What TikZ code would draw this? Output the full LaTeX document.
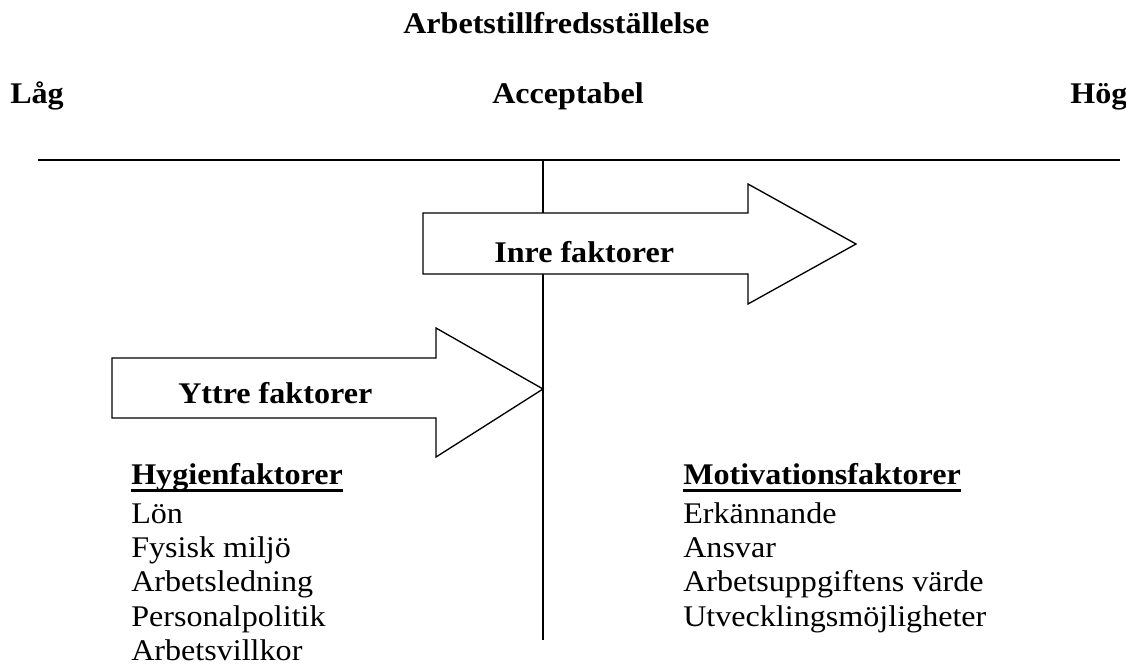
\documentclass[tikz,border=0pt]{standalone}
\usepackage{fontspec}
\setmainfont{Liberation Serif}[FakeStretch=1.07]
\newcommand\thickul[1]{\setbox0\hbox{#1}\rlap{\raisebox{-5.8pt}{\rule{\wd0}{2pt}}}\box0}
\begin{document}
\begin{tikzpicture}[x=0.75pt,y=-0.75pt,
  lbl/.style={inner sep=0pt,anchor=base west,font=\fontsize{22.5}{26}\selectfont},
  blbl/.style={lbl,font=\fontsize{22.5}{26}\selectfont\bfseries},
  arrowshape/.style={draw=black,line width=1pt,fill=white,line join=miter},
  axis/.style={line width=1.6pt},
  vaxis/.style={line width=1pt}]
\useasboundingbox (0,0) rectangle (1126,671);
% titles
\node[blbl] (title) at (403,33) {Arbetstillfredsställelse};
\node[blbl] (low) at (10,103) {Låg};
\node[blbl] (acc) at (492,103) {Acceptabel};
\node[blbl] (high) at (1070,103) {Hög};
% axes
\coordinate (hl) at (38,160);
\coordinate (hr) at (1120,160);
\coordinate (vt) at (543,160);
\coordinate (vb) at (543,640);
\draw[axis] (hl) -- (hr);
\draw[vaxis] (vt) -- (vb);
% inner arrow
\draw[arrowshape] (423,213) -- (748,213) -- (748,184) -- (856,244) -- (748,304) -- (748,274) -- (423,274) -- cycle;
\node[blbl] (inre) at (494,262) {Inre faktorer};
% outer arrow
\draw[arrowshape] (112,358) -- (436,358) -- (436,328) -- (543,389) -- (436,457) -- (436,418) -- (112,418) -- cycle;
\node[blbl] (yttre) at (178,403) {Yttre faktorer};
% left list
\node[blbl] (hyg) at (131,484) {\thickul{Hygienfaktorer}};
\node[lbl] (h1) at (131,523) {Lön};
\node[lbl] (h2) at (131,557) {Fysisk miljö};
\node[lbl] (h3) at (131,591.5) {Arbetsledning};
\node[lbl] (h4) at (131,626) {Personalpolitik};
\node[lbl] (h5) at (131,660) {Arbetsvillkor};
% right list
\node[blbl] (mot) at (683,484) {\thickul{Motivationsfaktorer}};
\node[lbl] (m1) at (683,523) {Erkännande};
\node[lbl] (m2) at (683,557) {Ansvar};
\node[lbl] (m3) at (683,591.5) {Arbetsuppgiftens värde};
\node[lbl] (m4) at (683,626) {Utvecklingsmöjligheter};
\end{tikzpicture}
\end{document}
